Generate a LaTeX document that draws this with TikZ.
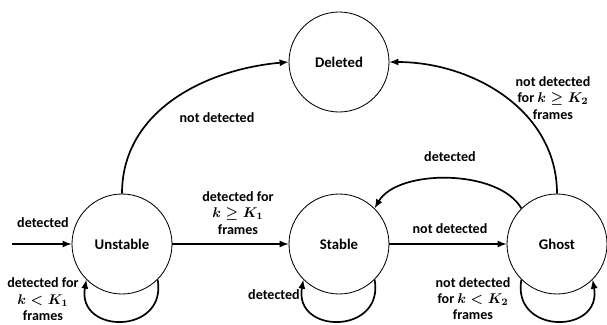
\documentclass[tikz,border=0pt]{standalone}
\usepackage{amsmath}
\usepackage{fontspec}
\setmainfont{Carlito}
\usepackage{tikz}
\usetikzlibrary{arrows}
\tikzstyle{stnode}=[circle, draw, fill=white, line width=0.6pt,
                    inner sep=0pt, minimum width=2.5cm, font=\fontsize{10.5}{12}\selectfont\bfseries]
\tikzstyle{lbl}=[draw=none, rectangle, inner sep=1pt, align=center,
                 font=\fontsize{10}{11.5}\selectfont\bfseries]
\tikzstyle{edge}=[->, >=latex, line width=1.2pt]

\begin{document}
\begin{tikzpicture}
      \useasboundingbox (0,0) rectangle (15.175,8.1);
      \node[stnode] (deleted) at (8.475,6.55) {Deleted};
      \node[stnode] (unstable) at (3.05,2.0) {Unstable};
      \node[stnode] (stable) at (8.475,2.0) {Stable};
      \node[stnode] (ghost) at (13.925,2.0) {Ghost};
      \coordinate (start) at (0.3,2.0);
      % labels
      \node[lbl] (lstart) at (1.075,2.525) {detected};
      \node[lbl] (lus) at (5.95,2.775) {detected for\\ $\boldsymbol{k \geq K_1}$\\ frames};
      \node[lbl] (luu) at (1.075,0.62) {detected for\\ $\boldsymbol{k < K_1}$\\ frames};
      \node[lbl] (lud) at (5.425,5.15) {not detected};
      \node[lbl] (lss) at (6.85,0.725) {detected};
      \node[lbl] (lsg) at (11.25,2.375) {not detected};
      \node[lbl] (lgs) at (11.25,4.175) {detected};
      \node[lbl] (lgg) at (11.825,0.64) {not detected\\ for $\boldsymbol{k < K_2}$\\ frames};
      \node[lbl] (lgd) at (13.825,5.65) {not detected\\ for $\boldsymbol{k \geq K_2}$\\ frames};
      % edges
      \draw[edge] (start)--(unstable);
      \draw[edge] (unstable)--(stable);
      \draw[edge] (stable)--(ghost);
      \draw[edge] (unstable.north) to[out=90,in=185] (deleted.west);
      \draw[edge] (ghost.north) to[out=90,in=0] (deleted.east);
      \draw[edge] (ghost.135) to[out=120,in=60,looseness=0.8] (stable.45);
      \draw[edge] (unstable.-45) .. controls +(-80:1.4) and +(-100:1.4) .. (unstable.-135);
      \draw[edge] (stable.-45) .. controls +(-80:1.4) and +(-100:1.4) .. (stable.-135);
      \draw[edge] (ghost.-135) .. controls +(-100:1.4) and +(-80:1.4) .. (ghost.-45);
\end{tikzpicture}
\end{document}
